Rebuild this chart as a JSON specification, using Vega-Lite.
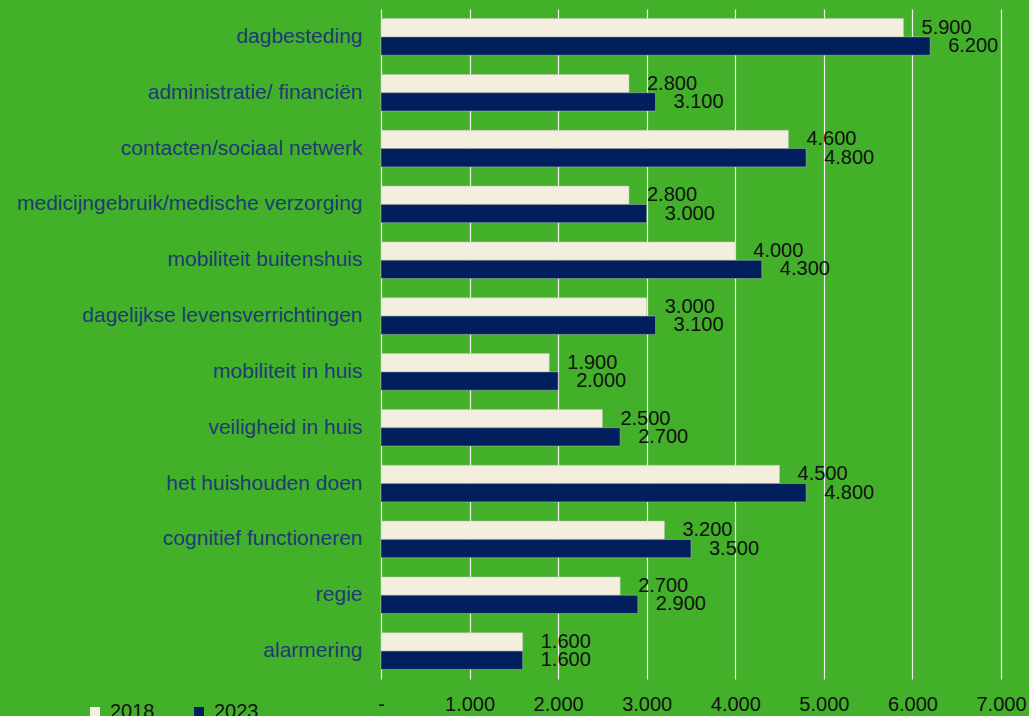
{
  "$schema": "https://vega.github.io/schema/vega-lite/v6.json",
  "width": 620,
  "height": 670,
  "autosize": {"type": "none"},
  "padding": {"left": 381, "top": 9, "right": 28, "bottom": 37},
  "background": "#43B02A",
  "config": {
    "view": {"stroke": null},
    "font": "Liberation Sans",
    "locale": {"number": {"decimal": ",", "thousands": ".", "grouping": [3], "currency": ["€", ""]}}
  },
  "data": {
    "values": [
      {"category": "dagbesteding", "year": "2018", "value": 5900},
      {"category": "dagbesteding", "year": "2023", "value": 6200},
      {"category": "administratie/ financiën", "year": "2018", "value": 2800},
      {"category": "administratie/ financiën", "year": "2023", "value": 3100},
      {"category": "contacten/sociaal netwerk", "year": "2018", "value": 4600},
      {"category": "contacten/sociaal netwerk", "year": "2023", "value": 4800},
      {"category": "medicijngebruik/medische verzorging", "year": "2018", "value": 2800},
      {"category": "medicijngebruik/medische verzorging", "year": "2023", "value": 3000},
      {"category": "mobiliteit buitenshuis", "year": "2018", "value": 4000},
      {"category": "mobiliteit buitenshuis", "year": "2023", "value": 4300},
      {"category": "dagelijkse levensverrichtingen", "year": "2018", "value": 3000},
      {"category": "dagelijkse levensverrichtingen", "year": "2023", "value": 3100},
      {"category": "mobiliteit in huis", "year": "2018", "value": 1900},
      {"category": "mobiliteit in huis", "year": "2023", "value": 2000},
      {"category": "veiligheid in huis", "year": "2018", "value": 2500},
      {"category": "veiligheid in huis", "year": "2023", "value": 2700},
      {"category": "het huishouden doen", "year": "2018", "value": 4500},
      {"category": "het huishouden doen", "year": "2023", "value": 4800},
      {"category": "cognitief functioneren", "year": "2018", "value": 3200},
      {"category": "cognitief functioneren", "year": "2023", "value": 3500},
      {"category": "regie", "year": "2018", "value": 2700},
      {"category": "regie", "year": "2023", "value": 2900},
      {"category": "alarmering", "year": "2018", "value": 1600},
      {"category": "alarmering", "year": "2023", "value": 1600}
    ]
  },
  "encoding": {
    "y": {
      "field": "category",
      "type": "nominal",
      "sort": null,
      "scale": {"paddingInner": 0.344, "paddingOuter": 0.172},
      "axis": {
        "title": null,
        "domain": false,
        "ticks": false,
        "labelFontSize": 21,
        "labelColor": "#1F3B73",
        "labelPadding": 19,
        "labelLimit": 400
      }
    },
    "yOffset": {
      "field": "year",
      "type": "nominal",
      "sort": ["2018", "2023"],
      "scale": {"paddingInner": 0, "paddingOuter": 0}
    },
    "x": {
      "field": "value",
      "type": "quantitative",
      "scale": {"domain": [0, 7000], "nice": false},
      "axis": {
        "title": null,
        "values": [0, 1000, 2000, 3000, 4000, 5000, 6000, 7000],
        "format": ",.0f",
        "labelExpr": "datum.value === 0 ? '-' : datum.label",
        "labelFlush": false,
        "labelOverlap": false,
        "domain": false,
        "ticks": false,
        "grid": true,
        "gridColor": "#F2F2F2",
        "gridWidth": 1.2,
        "gridOpacity": 1,
        "labelFontSize": 20,
        "labelColor": "#111111",
        "labelPadding": 15
      }
    }
  },
  "layer": [
    {
      "mark": {"type": "bar", "stroke": "#BFBFBF", "strokeWidth": 0.5},
      "encoding": {
        "color": {
          "field": "year",
          "type": "nominal",
          "scale": {"domain": ["2018", "2023"], "range": ["#F4EEDF", "#001F5C"]},
          "legend": {
            "title": null,
            "orient": "none",
            "direction": "horizontal",
            "legendX": -296,
            "legendY": 693,
            "padding": 0,
            "symbolType": "square",
            "symbolSize": 100,
            "symbolStrokeWidth": 0,
            "labelFontSize": 20,
            "labelColor": "#111111",
            "labelOffset": 5,
            "columnPadding": 34
          }
        }
      }
    },
    {
      "mark": {"type": "text", "align": "left", "baseline": "middle", "dx": 18, "fontSize": 20, "color": "#111111"},
      "encoding": {
        "text": {"field": "value", "type": "quantitative", "format": ",.0f"}
      }
    }
  ]
}
